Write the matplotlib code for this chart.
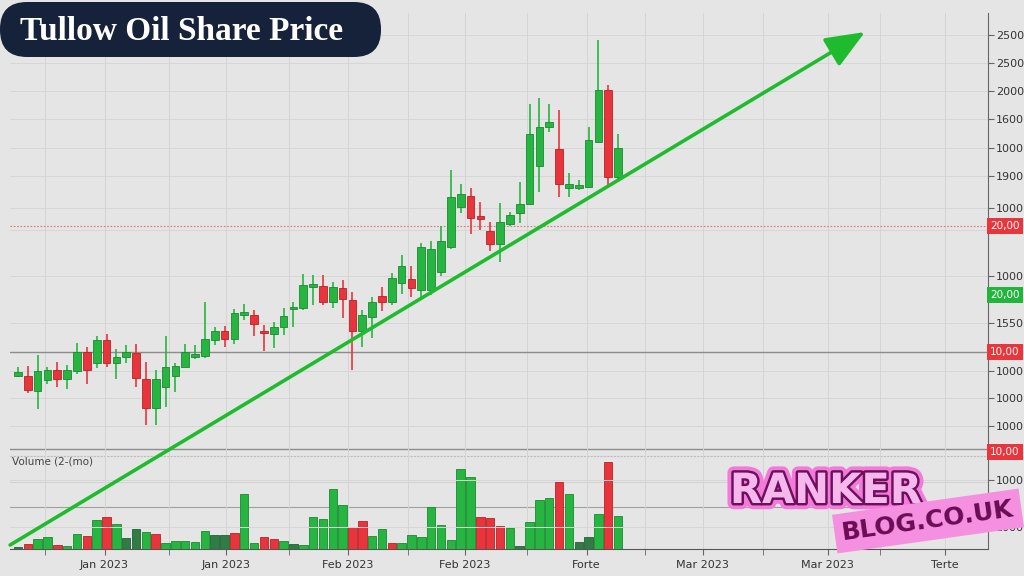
import numpy as np
import matplotlib.pyplot as plt
import matplotlib.patheffects as pe
from matplotlib.patches import FancyBboxPatch

# daily candles (price units as plotted), one entry per session
opens  = [224, 224, 209, 220, 230, 221, 229, 248, 237, 260, 237, 243, 247, 221, 192, 213,
          224, 233, 243, 244, 260, 269, 261, 285, 285, 269, 266, 273, 291, 292, 313, 314,
          298, 312, 300, 269, 283, 304, 298, 317, 321, 310, 310, 328, 353, 393, 404, 384,
          369, 356, 376, 387, 396, 434, 473, 451, 412, 412, 413, 458, 510, 423]
closes = [228, 210, 229, 230, 221, 230, 248, 230, 260, 237, 243, 248, 222, 192, 221, 233,
          234, 248, 246, 261, 269, 261, 287, 288, 276, 267, 273, 284, 293, 315, 316, 298,
          313, 301, 269, 285, 298, 298, 322, 334, 312, 353, 351, 359, 403, 406, 382, 381,
          356, 378, 385, 396, 466, 473, 478, 416, 416, 415, 460, 510, 423, 452]
highs  = [233, 234, 245, 233, 238, 235, 257, 253, 264, 266, 251, 255, 256, 238, 230, 264,
          237, 256, 255, 298, 273, 274, 291, 296, 290, 275, 278, 292, 298, 326, 325, 325,
          318, 320, 308, 290, 303, 313, 327, 345, 334, 357, 359, 374, 430, 416, 412, 398,
          378, 397, 388, 418, 496, 502, 496, 490, 427, 420, 473, 560, 515, 466]
lows   = [223, 207, 191, 216, 213, 211, 226, 216, 232, 233, 221, 237, 213, 175, 175, 193,
          208, 233, 241, 242, 255, 253, 256, 280, 264, 249, 252, 265, 273, 290, 295, 295,
          292, 282, 230, 253, 262, 289, 295, 306, 303, 302, 305, 324, 351, 387, 366, 370,
          349, 338, 374, 377, 395, 408, 468, 403, 403, 410, 412, 457, 415, 418]

volume = [2, 5, 10, 12, 4, 3, 15, 13, 29, 32, 25, 11, 20, 17, 15, 6,
          8, 8, 7, 18, 14, 14, 16, 55, 6, 12, 10, 8, 5, 4, 32, 30,
          60, 44, 22, 28, 13, 20, 6, 6, 14, 12, 42, 24, 9, 80, 72, 32,
          31, 23, 21, 3, 27, 49, 51, 67, 55, 7, 12, 35, 87, 33]
# g = up day, r = down day, d = thin/dark session
vol_kind = ['d', 'r', 'g', 'g', 'r', 'g', 'g', 'r', 'g', 'r', 'g', 'd', 'd', 'g', 'r', 'g',
            'g', 'g', 'g', 'g', 'd', 'd', 'r', 'g', 'g', 'r', 'r', 'g', 'd', 'g', 'g', 'g',
            'g', 'g', 'r', 'r', 'g', 'g', 'r', 'g', 'g', 'g', 'g', 'g', 'g', 'g', 'g', 'r',
            'r', 'r', 'g', 'd', 'g', 'g', 'g', 'r', 'g', 'd', 'd', 'g', 'r', 'g']

xtick_pos = [8.8, 21.1, 33.5, 45.4, 57.8, 69.6, 82.3, 94.2]
xtick_lab = ['Jan 2023', 'Jan 2023', 'Feb 2023', 'Feb 2023', 'Forte', 'Mar 2023', 'Mar 2023', 'Terte']
xminor_pos = [2.7, 15.4, 27.6, 39.6, 51.7, 63.7, 75.7, 87.6]

ytick_pos = [565, 537, 509, 481, 452, 424, 392, 370, 324, 277, 229, 202, 174, 120, 73]
ytick_lab = ['2500', '2500', '2000', '1600', '1000', '1900', '1000', '1000', '1000',
             '1550', '1000', '1000', '1000', '1000', '1000']

# price tags on the right axis
tag_pos = [374, 305, 248, 148]
tag_txt = ['20,00', '20,00', '10,00', '10,00']
tag_col = ['#e8363c', '#22b53c', '#e8363c', '#e8363c']

trend_x = [-0.8, 86.1]
trend_y = [55, 568]

GREEN, RED, DARK = '#26b540', '#e8343b', '#2f7d45'
BG = '#e5e5e5'

fig = plt.figure(figsize=(10.24, 5.76), dpi=100, facecolor=BG)
axv = fig.add_axes([10/1024, 27/576, 978/1024, 536/576])
axv.set_facecolor(BG)
ax = axv.twinx()
ax.patch.set_visible(False)

x = np.arange(len(opens))
o, c = np.array(opens), np.array(closes)
h, l = np.array(highs), np.array(lows)
up = c >= o

# volume
vcol = [{'g': GREEN, 'r': RED, 'd': DARK}[k] for k in vol_kind]
vedge = [{'g': '#1b8a30', 'r': '#b82228', 'd': '#245f34'}[k] for k in vol_kind]
axv.bar(x, volume, width=0.86, color=vcol, edgecolor=vedge, linewidth=0.6, zorder=3)
axv.set_ylim(0, 536)
axv.set_xlim(-0.81, 98.6)
axv.set_yticks([])
axv.axhline(42, color='#a0a0a0', lw=0.8, zorder=1)
axv.axhline(67, color='#d2d2d2', lw=0.7, zorder=1)
axv.axhline(93, color='#bdbdbd', lw=0.8, ls=(0, (2, 1)), zorder=1)
axv.axhline(100, color='#8c8c8c', lw=1.0, zorder=1)
axv.set_xticks(xtick_pos)
axv.set_xticklabels(xtick_lab, fontsize=8, color='#333333')
axv.set_xticks(xminor_pos, minor=True)
axv.tick_params(axis='x', which='both', direction='out', length=4, color='#666666', pad=4)
axv.grid(axis='x', which='both', color='#d4d4d4', lw=0.7, zorder=0)
for s in ['left', 'top', 'right']:
    axv.spines[s].set_visible(False)
axv.spines['bottom'].set_color('#555555')

# candles
col = np.where(up, GREEN, RED)
edge = np.where(up, '#1b8a30', '#b82228')
ax.vlines(x, l, h, colors=col, lw=1.2, zorder=3)
ax.bar(x, np.maximum(np.abs(c - o), 1.5), bottom=np.minimum(o, c), width=0.78,
       color=col, edgecolor=edge, linewidth=0.6, zorder=4)
ax.set_ylim(51, 587)
ax.set_xlim(-0.81, 98.6)
ax.set_yticks(ytick_pos)
ax.set_yticklabels(ytick_lab, fontsize=8, color='#333333')
ax.tick_params(axis='y', direction='out', length=4, color='#666666', pad=1.5)
ax.grid(axis='y', color='#d6d6d6', lw=0.7)
for s in ['left', 'top', 'bottom']:
    ax.spines[s].set_visible(False)
ax.spines['right'].set_color('#666666')

ax.axhline(374, color='#e07a70', lw=0.8, ls=(0, (1.5, 1.5)), zorder=2)
ax.axhline(248, color='#8c8c8c', lw=1.0, zorder=2)

for yv, t, cc in zip(tag_pos, tag_txt, tag_col):
    ax.text(1.002, yv, t, transform=ax.get_yaxis_transform(), fontsize=7.5, color='white',
            ha='left', va='center', zorder=6,
            bbox=dict(boxstyle='square,pad=0.3', fc=cc, ec='none'))

# trend arrow
ax.annotate('', xy=(trend_x[1], trend_y[1]), xytext=(trend_x[0], trend_y[0]),
            arrowprops=dict(arrowstyle='-|>,head_length=1.1,head_width=0.45',
                            mutation_scale=22, color='#1fbb2e', lw=2.6, shrinkA=0, shrinkB=0),
            annotation_clip=False, zorder=5)

fig.text(12/1024, 1 - 461/576, 'Volume (2-(mo)', fontsize=7.5, color='#444444', va='center')

# title pill
fig.patches.append(FancyBboxPatch((0.0, 5.19), 3.81, 0.55,
                                  boxstyle='round,pad=0,rounding_size=0.27',
                                  transform=fig.dpi_scale_trans, fc='#16213a', ec='none'))
fig.text(20/1024, 1 - 31/576, 'Tullow Oil Share Price', fontsize=24, color='white',
         fontfamily='Liberation Serif', fontweight='bold', va='center', ha='left')

# watermark
fig.text(826/1024, 1 - 491/576, 'RANKER', fontsize=30, fontweight='bold', color='#f6b8ec',
         ha='center', va='center', zorder=10,
         path_effects=[pe.withStroke(linewidth=9, foreground='#f27bd9'),
                       pe.withStroke(linewidth=3.5, foreground='#6d0f5c')])
fig.text(928/1024, 1 - 521/576, 'BLOG.CO.UK', fontsize=18, fontweight='bold', color='#6b0b56',
         ha='center', va='center', rotation=8, zorder=10,
         bbox=dict(boxstyle='square,pad=0.3', fc='#f590e0', ec='none'))

fig.savefig('out.png', dpi=100, facecolor=BG)
